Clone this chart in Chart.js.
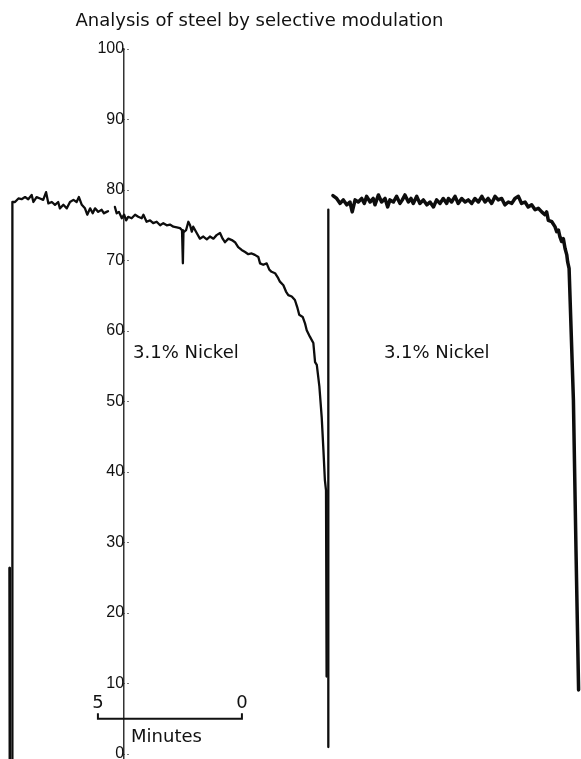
<!DOCTYPE html>
<html>
<head>
<meta charset="utf-8">
<title>Analysis of steel by selective modulation</title>
<script src="https://cdn.jsdelivr.net/npm/chart.js@4.4.0/dist/chart.umd.min.js"></script>
<style>
  html, body { margin: 0; padding: 0; background: #fff; overflow: hidden; }
  /* title sits left of centre in the original, so the canvas is widened to the left */
  #wrap { position: absolute; left: -62px; top: 0; width: 643px; height: 759px; }
</style>
</head>
<body>
<div id="wrap"><canvas id="chart"></canvas></div>
<script>
// chart recorder traces: x = minutes from left edge of the strip, y = %

// end of the previous run dropping off
const tailMin = [0.33, 0.34];
const tailPct = [26.4, -0.7];

// first run, before the pen lift
const run1Min = [0.43, 0.43, 0.52, 0.64, 0.75, 0.87, 0.98, 1.10, 1.16, 1.27,
  1.39, 1.50, 1.60, 1.68, 1.80, 1.91, 2.02, 2.08, 2.20, 2.32,
  2.43, 2.55, 2.66, 2.74, 2.84, 2.95, 3.03, 3.13, 3.22, 3.30,
  3.41, 3.53, 3.61, 3.70, 3.75];
const run1Pct = [-0.7, 78.3, 78.3, 78.8, 78.7, 79.0, 78.7, 79.3, 78.3, 79.0,
  78.8, 78.6, 79.7, 78.1, 78.3, 77.9, 78.3, 77.4, 77.9, 77.4,
  78.3, 78.6, 78.3, 79.0, 77.9, 77.4, 76.5, 77.4, 76.7, 77.4,
  76.9, 77.2, 76.7, 76.9, 77.0];

// first run, after the pen lift, falling off at the end
const run1bMin = [3.99, 4.05, 4.13, 4.23, 4.31, 4.38, 4.45, 4.57, 4.69, 4.80,
  4.92, 4.98, 5.09, 5.21, 5.32, 5.44, 5.56, 5.67, 5.79, 5.90,
  6.02, 6.14, 6.25, 6.32, 6.35, 6.37, 6.46, 6.54, 6.60, 6.66,
  6.71, 6.83, 6.94, 7.06, 7.18, 7.29, 7.41, 7.52, 7.64, 7.73,
  7.81, 7.93, 8.05, 8.16, 8.27, 8.39, 8.51, 8.62, 8.74, 8.85,
  8.97, 9.03, 9.14, 9.26, 9.35, 9.43, 9.55, 9.66, 9.72, 9.84,
  9.93, 10.01, 10.13, 10.24, 10.32, 10.39, 10.51, 10.59, 10.65, 10.76,
  10.88, 10.94, 11.00, 11.09, 11.17, 11.23, 11.28, 11.32, 11.34];
const run1bPct = [77.6, 76.7, 76.9, 76.0, 76.5, 75.7, 76.2, 76.0, 76.5, 76.2,
  76.0, 76.5, 75.5, 75.7, 75.3, 75.5, 75.0, 75.3, 75.0, 75.1,
  74.8, 74.7, 74.6, 74.3, 69.6, 74.0, 74.3, 75.5, 75.0, 74.1,
  74.8, 73.9, 73.1, 73.4, 73.0, 73.4, 73.1, 73.6, 73.9, 73.1,
  72.6, 73.1, 72.9, 72.6, 71.9, 71.5, 71.2, 70.9, 71.0, 70.8,
  70.5, 69.6, 69.4, 69.6, 68.7, 68.4, 68.2, 67.5, 67.0, 66.5,
  65.6, 65.1, 64.9, 64.4, 63.4, 62.3, 62.0, 61.1, 60.1, 59.2,
  58.3, 55.6, 55.2, 52.1, 47.8, 43.1, 38.9, 37.4, 11.0];

// second run: pen rise, then the flat noisy trace
const riseMin = [11.40, 11.40];
const risePct = [1.0, 77.2];

const run2Min = [11.56, 11.69, 11.81, 11.92, 12.04, 12.15, 12.23, 12.33, 12.44, 12.56,
  12.65, 12.73, 12.85, 12.96, 13.02, 13.14, 13.25, 13.37, 13.46, 13.54,
  13.66, 13.77, 13.89, 13.97, 14.06, 14.18, 14.27, 14.35, 14.47, 14.58,
  14.70, 14.82, 14.93, 15.05, 15.16, 15.28, 15.39, 15.51, 15.57, 15.68,
  15.80, 15.91, 16.03, 16.15, 16.26, 16.38, 16.49, 16.61, 16.73, 16.84,
  16.95, 17.07, 17.19, 17.30, 17.42, 17.53, 17.65, 17.77, 17.88, 18.00,
  18.11, 18.23, 18.34, 18.46, 18.58, 18.69, 18.81, 18.92, 18.98, 19.04,
  19.16, 19.27, 19.33, 19.39, 19.44, 19.50, 19.56, 19.62, 19.68, 19.71,
  19.76, 19.91, 20.00, 20.09];
const run2Pct = [79.2, 78.8, 78.1, 78.6, 77.9, 78.3, 76.9, 78.6, 78.3, 78.8,
  78.1, 79.1, 78.3, 78.8, 77.9, 79.3, 78.3, 78.8, 77.6, 78.6,
  78.3, 79.1, 78.1, 78.6, 79.3, 78.3, 78.8, 78.1, 79.1, 78.1,
  78.6, 77.9, 78.3, 77.6, 78.6, 78.1, 78.8, 78.1, 78.8, 78.3,
  79.1, 78.1, 78.8, 78.3, 78.6, 78.1, 78.8, 78.3, 79.1, 78.3,
  78.8, 78.1, 79.1, 78.6, 78.8, 77.9, 78.3, 78.1, 78.8, 79.1,
  78.1, 78.3, 77.6, 77.9, 77.2, 77.4, 76.9, 76.5, 76.9, 75.7,
  75.5, 74.8, 74.1, 74.3, 73.4, 72.7, 73.1, 71.7, 70.8, 69.8,
  68.9, 50.2, 28.9, 9.1];

// labels
const nickelText = '3.1% Nickel';
const nickelX = [4.62, 13.33];
const nickelY = 56.9;

// 5 minute scale bar
const barFrom = 3.40;
const barTo = 8.40;
const barLabels = ['5', '0'];
const unitLabel = 'Minutes';

const axisAt = 4.31;          // where the % axis crosses, in minutes
const PX_PER_MIN = 28.8;
const SHIFT = 62;             // px the canvas is pushed left (see css)

function pts(xs, ys) {
  return xs.map((v, i) => ({ x: v, y: ys[i] }));
}

function trace(xs, ys, w) {
  return {
    data: pts(xs, ys),
    borderColor: '#0d0d0d',
    borderWidth: w,
    pointRadius: 0,
    tension: 0,
    fill: false,
    borderJoinStyle: 'round',
    borderCapStyle: 'round'
  };
}

// labels and the time scale bar
const notes = {
  id: 'notes',
  afterDatasetsDraw(chart) {
    const { ctx, scales: { x, y } } = chart;
    ctx.save();
    ctx.fillStyle = '#111';
    ctx.strokeStyle = '#111';
    ctx.font = '18px "DejaVu Sans"';
    ctx.textBaseline = 'middle';
    ctx.textAlign = 'left';
    nickelX.forEach(v => {
      ctx.fillText(nickelText, x.getPixelForValue(v), y.getPixelForValue(nickelY));
    });

    const x0 = x.getPixelForValue(barFrom);
    const x1 = x.getPixelForValue(barTo);
    const yb = y.getPixelForValue(5.0);
    const yt = y.getPixelForValue(5.8);
    ctx.lineWidth = 2;
    ctx.beginPath();
    ctx.moveTo(x0, yt);
    ctx.lineTo(x0, yb);
    ctx.lineTo(x1, yb);
    ctx.lineTo(x1, yt);
    ctx.stroke();

    ctx.textAlign = 'center';
    ctx.fillText(barLabels[0], x0, y.getPixelForValue(7.2));
    ctx.fillText(barLabels[1], x1, y.getPixelForValue(7.2));
    ctx.textAlign = 'left';
    ctx.fillText(unitLabel, x.getPixelForValue(4.55), y.getPixelForValue(2.4));
    ctx.restore();
  }
};

new Chart(document.getElementById('chart'), {
  type: 'line',
  data: {
    datasets: [
      trace(tailMin, tailPct, 2.5),
      trace(run1Min, run1Pct, 2.3),
      trace(run1bMin, run1bPct, 2.3),
      trace(riseMin, risePct, 2.3),
      trace(run2Min, run2Pct, 3.5)
    ]
  },
  options: {
    responsive: true,
    maintainAspectRatio: false,
    animation: false,
    layout: { padding: 0 },
    scales: {
      x: {
        type: 'linear',
        display: false,
        min: -SHIFT / PX_PER_MIN,
        max: 581 / PX_PER_MIN
      },
      y: {
        type: 'linear',
        position: { x: axisAt },
        min: -0.7,
        max: 100,
        // no extra room for the end labels: the 0 is cut off at the bottom
        afterFit(scale) {
          scale.paddingTop = 0;
          scale.paddingBottom = 0;
        },
        border: { display: true, color: '#333', width: 1.5 },
        grid: {
          display: true,
          drawOnChartArea: false,
          drawTicks: true,
          tickLength: -8,
          tickColor: '#777',
          tickWidth: 1,
          tickBorderDash: [2, 2]
        },
        ticks: {
          stepSize: 10,
          includeBounds: false,
          padding: 10.5,
          color: '#111',
          font: { family: 'Liberation Sans', size: 16 }
        }
      }
    },
    plugins: {
      legend: { display: false },
      tooltip: { enabled: false },
      title: {
        display: true,
        text: 'Analysis of steel by selective modulation',
        color: '#111',
        font: { family: 'DejaVu Sans', size: 18, weight: 'normal' },
        padding: { top: 11, bottom: 16.4 }
      }
    }
  },
  plugins: [notes]
});
</script>
</body>
</html>
